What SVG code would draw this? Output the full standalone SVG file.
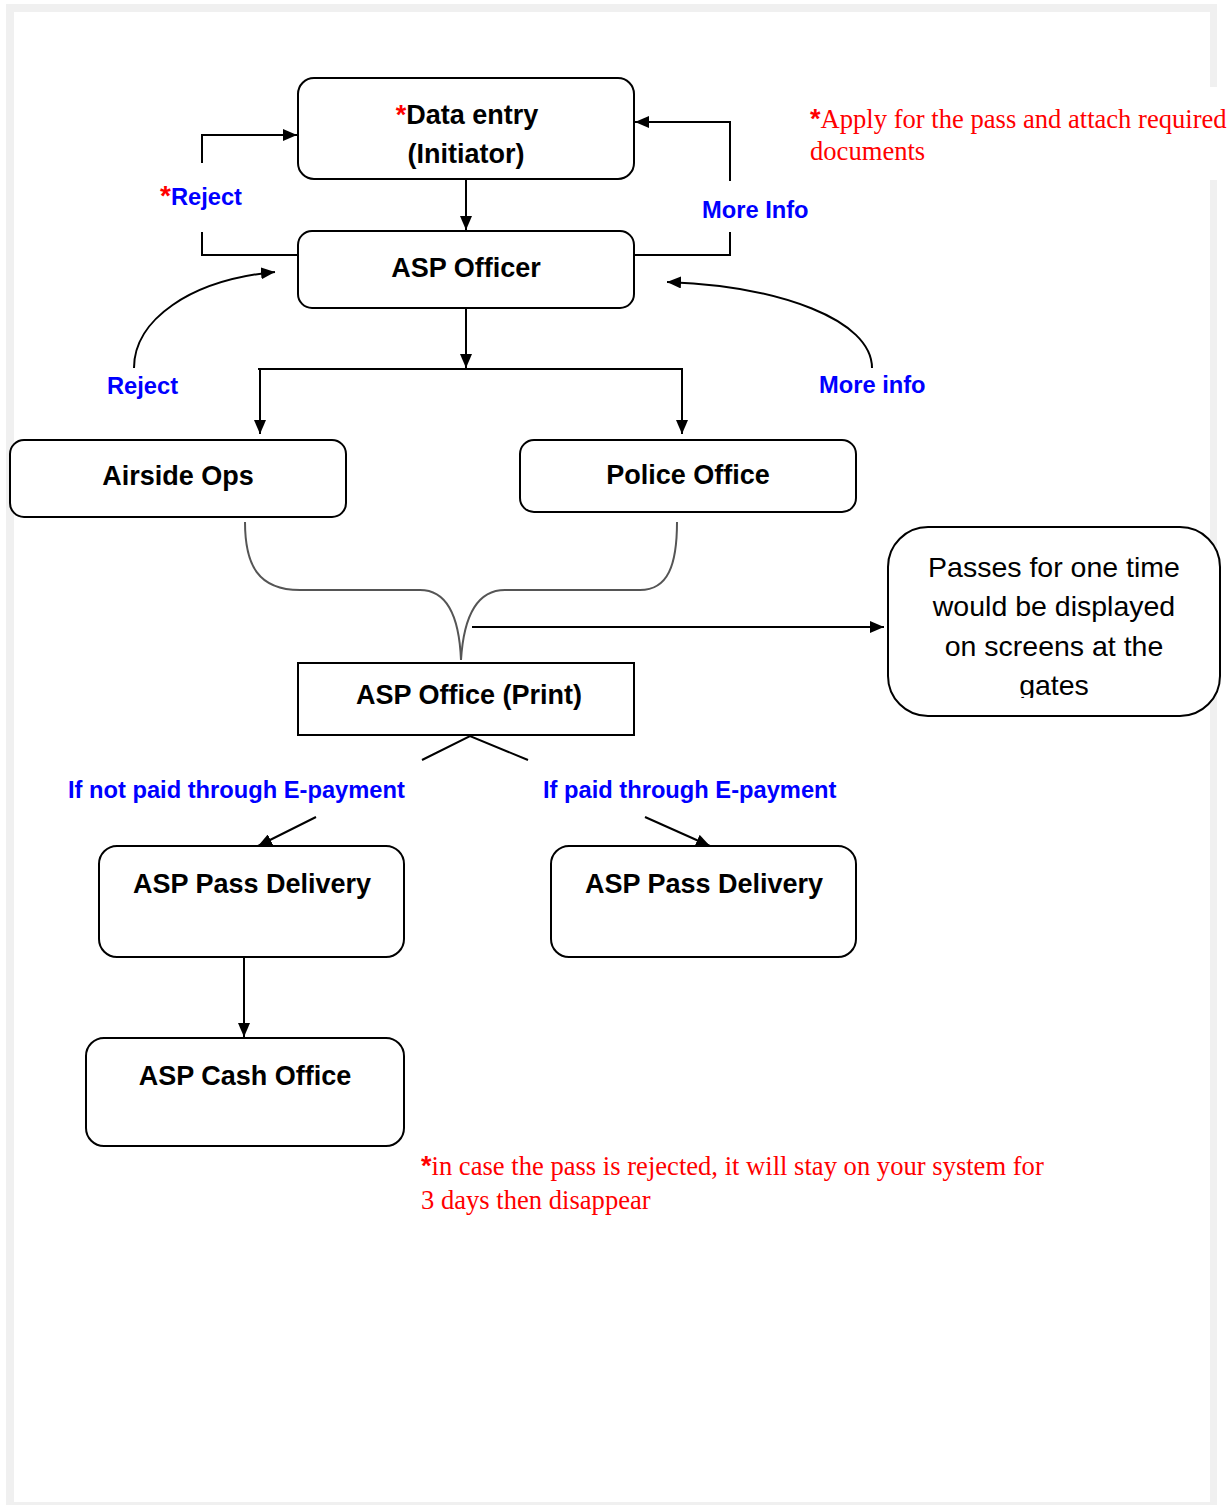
<svg xmlns="http://www.w3.org/2000/svg" width="1231" height="1506" viewBox="0 0 1231 1506">
<defs>
<style>
.box{fill:#fff;stroke:#000;stroke-width:2}
.ln{fill:none;stroke:#000;stroke-width:2}
.br{fill:none;stroke:#555;stroke-width:2}
.t{font-family:"Liberation Sans",Arial,sans-serif;font-weight:bold;font-size:27px;fill:#000;text-anchor:middle}
.lbl{font-family:"Liberation Sans",Arial,sans-serif;font-weight:bold;font-size:23.7px;fill:#0000ff}
.note{font-family:"Liberation Serif","Times New Roman",serif;font-size:26.6px;fill:#ff0000}
.red{fill:#ff0000}
.reg{font-family:"Liberation Sans",Arial,sans-serif;font-size:28.5px;fill:#000;text-anchor:middle}
</style>
<marker id="ah" viewBox="0 0 14 12" refX="14" refY="6" markerWidth="14" markerHeight="12" markerUnits="userSpaceOnUse" orient="auto">
<path d="M0,0 L14,6 L0,12 z" fill="#000"/>
</marker>
<clipPath id="pclip"><rect x="888" y="527" width="334" height="171"/></clipPath>
</defs>
<rect x="0" y="0" width="1231" height="1506" fill="#fff"/>
<rect x="6" y="4" width="1211" height="1501" fill="#f0f0f0"/>
<rect x="14" y="12" width="1196" height="1490" fill="#fff"/>
<rect x="805" y="87" width="426" height="93" fill="#fff"/>

<g id="connectors">
<line class="ln" x1="466" y1="179" x2="466" y2="230" marker-end="url(#ah)"/>
<polyline class="ln" points="298,255 202,255 202,232"/>
<polyline class="ln" points="202,163 202,135 297,135" marker-end="url(#ah)"/>
<polyline class="ln" points="634,255 730,255 730,232"/>
<polyline class="ln" points="730,181 730,122 635,122" marker-end="url(#ah)"/>
<path class="ln" d="M134,368 C134,320 190,280 275,272" marker-end="url(#ah)"/>
<path class="ln" d="M872,368 C872,320 780,286 667,282" marker-end="url(#ah)"/>
<line class="ln" x1="466" y1="308" x2="466" y2="368" marker-end="url(#ah)"/>
<line class="ln" x1="258" y1="369" x2="683" y2="369"/>
<line class="ln" x1="260" y1="369" x2="260" y2="434" marker-end="url(#ah)"/>
<line class="ln" x1="682" y1="369" x2="682" y2="434" marker-end="url(#ah)"/>
<path class="br" d="M245,522 C245,565 258,590 300,590 L420,590 C445,590 459,612 461,660"/>
<path class="br" d="M677,522 C677,565 668,590 640,590 L505,590 C480,590 464,612 461,660"/>
<line class="ln" x1="472" y1="627" x2="884" y2="627" marker-end="url(#ah)"/>
<polyline class="ln" points="422,760 470,736 528,760"/>
<line class="ln" x1="316" y1="817" x2="258" y2="846" marker-end="url(#ah)"/>
<line class="ln" x1="645" y1="817" x2="710" y2="846" marker-end="url(#ah)"/>
<line class="ln" x1="244" y1="958" x2="244" y2="1037" marker-end="url(#ah)"/>
<text class="lbl" x="160" y="205"><tspan class="red" font-size="28">*</tspan>Reject</text>
<text class="lbl" x="702" y="218">More Info</text>
<text class="lbl" x="107" y="394">Reject</text>
<text class="lbl" x="819" y="393">More info</text>
<text class="lbl" x="68" y="798">If not paid through E-payment</text>
<text class="lbl" x="543" y="798">If paid through E-payment</text>
</g>

<g id="data-entry">
<rect class="box" x="298" y="78" width="336" height="101" rx="16"/>
<text class="t" x="467" y="124" font-size="28"><tspan class="red">*</tspan>Data entry</text>
<text class="t" x="466" y="163" font-size="28">(Initiator)</text>
</g>
<g id="asp-officer">
<rect class="box" x="298" y="231" width="336" height="77" rx="14"/>
<text class="t" x="466" y="277">ASP Officer</text>
</g>
<g id="airside-ops">
<rect class="box" x="10" y="440" width="336" height="77" rx="14"/>
<text class="t" x="178" y="485">Airside Ops</text>
</g>
<g id="police-office">
<rect class="box" x="520" y="440" width="336" height="72" rx="14"/>
<text class="t" x="688" y="484">Police Office</text>
</g>
<g id="passes-note">
<rect class="box" x="888" y="527" width="332" height="189" rx="40"/>
<g clip-path="url(#pclip)">
<text class="reg" x="1054" y="577">Passes for one time</text>
<text class="reg" x="1054" y="616">would be displayed</text>
<text class="reg" x="1054" y="656">on screens at the</text>
<text class="reg" x="1054" y="695">gates</text>
</g>
</g>
<g id="asp-print">
<rect class="box" x="298" y="663" width="336" height="72"/>
<text class="t" x="469" y="704">ASP Office (Print)</text>
</g>
<g id="pass-delivery-left">
<rect class="box" x="99" y="846" width="305" height="111" rx="18"/>
<text class="t" x="252" y="893">ASP Pass Delivery</text>
</g>
<g id="pass-delivery-right">
<rect class="box" x="551" y="846" width="305" height="111" rx="18"/>
<text class="t" x="704" y="893">ASP Pass Delivery</text>
</g>
<g id="cash-office">
<rect class="box" x="86" y="1038" width="318" height="108" rx="18"/>
<text class="t" x="245" y="1085">ASP Cash Office</text>
</g>
<g id="notes">
<text class="note" x="810" y="128"><tspan font-family="Liberation Sans,Arial,sans-serif" font-weight="bold" font-size="27">*</tspan>Apply for the pass and attach required</text>
<text class="note" x="810" y="160">documents</text>
<text class="note" x="421" y="1175"><tspan font-family="Liberation Sans,Arial,sans-serif" font-weight="bold" font-size="27">*</tspan>in case the pass is rejected, it will stay on your system for</text>
<text class="note" x="421" y="1209">3 days then disappear</text>
</g>
</svg>
